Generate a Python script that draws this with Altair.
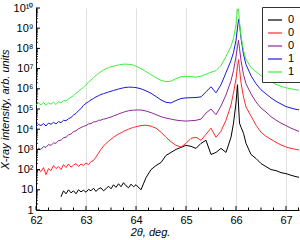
import altair as alt
import pandas as pd

two_theta = [62.00, 62.05, 62.10, 62.15, 62.20, 62.25, 62.30, 62.35, 62.40, 62.45,
             62.50, 62.55, 62.60, 62.65, 62.70, 62.75, 62.80, 62.85, 62.90, 62.95,
             63.00, 63.05, 63.10, 63.15, 63.20, 63.25, 63.30, 63.35, 63.40, 63.45,
             63.50, 63.55, 63.60, 63.65, 63.70, 63.75, 63.80, 63.85, 63.90, 63.95,
             64.0, 64.1, 64.2, 64.3, 64.4, 64.5, 64.6, 64.7, 64.8, 64.9,
             65.0, 65.1, 65.2, 65.3, 65.4, 65.5, 65.6, 65.7, 65.8, 65.9,
             65.95, 66.0, 66.03, 66.05, 66.07, 66.1, 66.15, 66.2,
             66.3, 66.4, 66.5, 66.6, 66.7, 66.8, 66.9, 67.0, 67.1, 67.2, 67.3]

series_names = ["0.0", "0.3", "0.6", "1.0", "1.5"]
series_colors = ["#000000", "#ff2a2a", "#8e2a94", "#1a1adb", "#3cf03c"]

# log10 of intensity
log_black = [None, None, None, None, None, None, None, None, None, None,
             0.65, 0.95, 0.80, 1.00, 0.85, 0.95, 0.80, 1.00, 0.90, 0.98,
             0.88, 1.02, 0.95, 1.08, 0.92, 1.05, 1.10, 0.95, 1.05, 1.18,
             1.05, 1.25, 1.12, 1.30, 1.15, 1.35, 1.20, 1.10, 1.28, 1.15,
             1.25, 1.0, 1.6, 2.0, 2.2, 2.35, 2.7, 2.85, 3.0, 3.1,
             3.2, 3.15, 3.05, 3.3, 3.45, 2.75, 2.85, 3.05, 2.85, 3.6,
             4.3, 5.3, 6.2, 5.2, 4.3, 4.1, 3.8, 3.3,
             2.75, 2.55, 2.3, 2.15, 2.0, 1.95, 1.85, 1.8, 1.72, 1.65, 1.6]
log_red = [1.85, 2.00, 1.90, 2.10, 1.75, 2.05, 1.95, 2.20, 2.05, 2.15,
           2.00, 2.25, 2.10, 2.28, 2.12, 2.22, 2.30, 2.15, 2.28, 2.20,
           2.32, 2.25, 2.40, 2.45, 2.62, 2.82, 3.00, 3.16, 3.30, 3.40,
           3.50, 3.60, 3.68, 3.76, 3.82, 3.89, 3.95, 4.00, 4.05, 4.09,
           4.12, 4.18, 4.2, 4.15, 4.05, 3.85, 3.6, 3.38, 3.2, 3.12,
           3.3, 3.55, 3.6, 3.45, 3.75, 4.05, 3.6, 3.9, 4.45, 5.2,
           5.8, 6.5, 7.1, 7.45, 7.0, 6.3, 5.6, 5.1,
           4.65, 4.2, 3.85, 3.65, 3.5, 3.35, 3.22, 3.12, 3.05, 3.0, 2.95]
log_purple = [2.92, 3.04, 3.00, 3.14, 3.10, 3.24, 3.20, 3.32, 3.30, 3.44,
              3.45, 3.58, 3.60, 3.72, 3.76, 3.88, 3.92, 4.02, 4.08, 4.14,
              4.18, 4.26, 4.28, 4.36, 4.37, 4.44, 4.45, 4.50, 4.52, 4.57,
              4.60, 4.66, 4.70, 4.75, 4.80, 4.84, 4.88, 4.91, 4.93, 4.94,
              4.95, 4.95, 4.9, 4.82, 4.72, 4.62, 4.55, 4.5, 4.45, 4.42,
              4.4, 4.42, 4.44, 4.5, 4.8, 5.0, 4.72, 5.15, 5.7, 6.4,
              6.9, 7.6, 8.1, 8.4, 8.0, 7.4, 6.7, 6.25,
              5.75, 5.35, 5.05, 4.85, 4.62, 4.45, 4.3, 4.18, 4.05, 3.95, 3.85]
log_blue = [4.12, 4.24, 4.18, 4.28, 4.16, 4.30, 4.24, 4.34, 4.26, 4.38,
            4.32, 4.44, 4.42, 4.52, 4.58, 4.70, 4.78, 4.92, 5.02, 5.18,
            5.28, 5.36, 5.45, 5.52, 5.60, 5.66, 5.72, 5.76, 5.80, 5.84,
            5.88, 5.92, 5.95, 5.99, 6.02, 6.05, 6.07, 6.08, 6.08, 6.07,
            6.06, 6.0, 5.9, 5.78, 5.62, 5.45, 5.33, 5.3, 5.42, 5.52,
            5.55, 5.56, 5.57, 5.6, 5.85, 6.1, 5.8, 6.2, 6.8, 7.4,
            7.8, 8.4, 9.0, 9.45, 9.2, 8.5, 7.7, 7.2,
            6.65, 6.25, 5.95, 5.75, 5.55, 5.38, 5.25, 5.12, 5.05, 4.98, 4.95]
log_green = [5.22, 5.30, 5.20, 5.33, 5.18, 5.30, 5.24, 5.34, 5.22, 5.36,
             5.30, 5.42, 5.40, 5.50, 5.58, 5.66, 5.78, 5.88, 5.98, 6.08,
             6.20, 6.32, 6.44, 6.55, 6.66, 6.76, 6.85, 6.93, 7.00, 7.05,
             7.09, 7.12, 7.15, 7.18, 7.20, 7.22, 7.22, 7.21, 7.20, 7.17,
             7.12, 7.0, 6.85, 6.7, 6.55, 6.42, 6.35, 6.38, 6.5, 6.6,
             6.62, 6.6, 6.58, 6.62, 6.72, 6.82, 6.9, 7.15, 7.6, 8.1,
             8.5, 9.2, 9.95, 9.95, 9.3, 8.6, 7.9, 7.45,
             7.05, 6.85, 6.65, 6.48, 6.35, 6.22, 6.12, 6.05, 6.0, 5.95, 5.93]

x_major = [62, 63, 64, 65, 66, 67]
x_minor = [62.25, 62.5, 62.75, 63.25, 63.5, 63.75, 64.25, 64.5, 64.75,
           65.25, 65.5, 65.75, 66.25, 66.5, 66.75, 67.25]
y_decades = [1, 10, 1e2, 1e3, 1e4, 1e5, 1e6, 1e7, 1e8, 1e9, 1e10]
y_multipliers = [2, 3, 4, 5, 6, 7, 8, 9]
y_labels = ["1", "10", "10²", "10³", "10⁴", "10⁵", "10⁶", "10⁷", "10⁸", "10⁹", "10¹⁰"]

rows = []
for name, vals in zip(series_names, [log_black, log_red, log_purple, log_blue, log_green]):
    for t, v in zip(two_theta, vals):
        if v is not None:
            rows.append({"two_theta": t, "intensity": 10 ** v, "series": name})
df = pd.DataFrame(rows)

W, H = 263, 202
xscale = alt.Scale(domain=[62, 67.26], nice=False, zero=False)
yscale = alt.Scale(type="log", domain=[1, 1e10], nice=False)

label_expr = "[" + ",".join("'%s'" % s for s in y_labels) + "][round(log(datum.value)/LN10)]"

x_axis = alt.Axis(title="2θ, deg.", values=x_major, format="d",
                  grid=True, gridColor="#e0e0e0", gridWidth=1,
                  ticks=False, domainColor="black", labelFlush=False,
                  labelFont="Liberation Sans", labelFontSize=11, labelColor="black",
                  labelPadding=4,
                  titleFont="Liberation Sans", titleFontSize=11, titleFontStyle="italic",
                  titleFontWeight="normal", titleColor="black", titleX=114, titlePadding=1)
y_axis = alt.Axis(title="X-ray intensity, arb. units", values=y_decades,
                  labelExpr=label_expr, grid=False, ticks=False,
                  domainColor="black", labelOverlap=False, labelFlush=False,
                  labelFont="Liberation Sans", labelFontSize=11, labelColor="black",
                  labelPadding=3,
                  titleFont="Liberation Sans", titleFontSize=11, titleFontStyle="italic",
                  titleFontWeight="normal", titleColor="black", titlePadding=3)

lines = alt.Chart(df).mark_line(strokeWidth=1, clip=True).encode(
    x=alt.X("two_theta:Q", scale=xscale, axis=x_axis, title="2θ, deg."),
    y=alt.Y("intensity:Q", scale=yscale, axis=y_axis, title="X-ray intensity, arb. units"),
    color=alt.Color("series:N", sort=series_names,
                    scale=alt.Scale(domain=series_names, range=series_colors),
                    legend=alt.Legend(title=None, orient="none", legendX=226, legendY=-1,
                                      symbolType="stroke", symbolSize=200, symbolStrokeWidth=1.2,
                                      labelExpr="slice(datum.label, 0, 1)",
                                      labelFont="Liberation Sans", labelFontSize=11,
                                      labelColor="black", fillColor="white",
                                      strokeColor="#333333", padding=5, rowPadding=0,
                                      labelOffset=5)),
)

xmaj = pd.DataFrame({"v": x_major})
xmin = pd.DataFrame({"v": x_minor})
ymaj = pd.DataFrame({"v": y_decades})
ymin = pd.DataFrame({"v": [m * d for d in y_decades[:-1] for m in y_multipliers]})

xt_major = alt.Chart(xmaj).mark_rule(color="black", strokeWidth=1).encode(
    x=alt.X("v:Q", scale=xscale, axis=x_axis, title="2θ, deg."),
    y=alt.value(H), y2=alt.value(H - 4))
xt_minor = alt.Chart(xmin).mark_rule(color="black", strokeWidth=1).encode(
    x=alt.X("v:Q", scale=xscale, axis=x_axis, title="2θ, deg."),
    y=alt.value(H), y2=alt.value(H - 2.5))
yt_major = alt.Chart(ymaj).mark_rule(color="black", strokeWidth=1).encode(
    y=alt.Y("v:Q", scale=yscale, axis=y_axis, title="X-ray intensity, arb. units"),
    x=alt.value(0), x2=alt.value(4))
yt_minor = alt.Chart(ymin).mark_rule(color="black", strokeWidth=0.8).encode(
    y=alt.Y("v:Q", scale=yscale, axis=y_axis, title="X-ray intensity, arb. units"),
    x=alt.value(0), x2=alt.value(2))

chart = alt.layer(lines, xt_major, xt_minor, yt_major, yt_minor).properties(
    width=W, height=H,
    autosize=alt.AutoSizeParams(type="none"),
    padding={"left": 36, "top": 8, "right": 1, "bottom": 30},
    background="white",
).configure_view(stroke=None)

chart.save("out.html", embed_options={"renderer": "svg", "actions": False})
